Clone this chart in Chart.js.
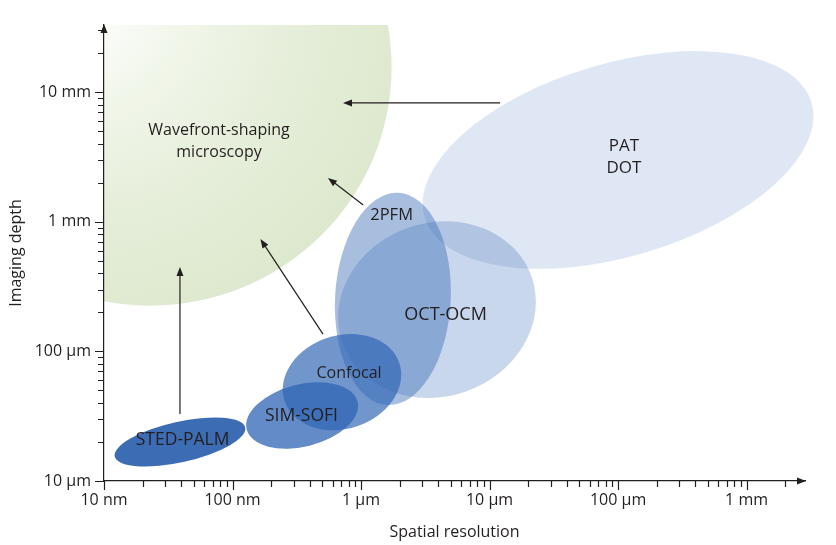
<!DOCTYPE html>
<html lang="en">
<head>
<meta charset="UTF-8">
<title>Imaging depth vs spatial resolution</title>
<script src="https://cdn.jsdelivr.net/npm/chart.js"></script>
<style>
  html, body { margin: 0; padding: 0; background: #fff; }
  canvas { display: block; }
</style>
</head>
<body>
<canvas id="depthChart" width="836" height="545"></canvas>
<script>
// axis ranges (nm for resolution, µm for depth)
const resMin = 10, resMax = 2850000;
const depthMin = 10, depthMax = 33000;

const resTicks = [10, 100, 1000, 10000, 100000, 1000000];
const resTickLabels = ['10 nm', '100 nm', '1 µm', '10 µm', '100 µm', '1 mm'];
const depthTicks = [10, 100, 1000, 10000];
const depthTickLabels = ['10 µm', '100 µm', '1 mm', '10 mm'];

// technique regions: centre (nm, µm), half-extent in decades, tilt in degrees
const techniques = ['Wavefront-shaping', 'PAT-DOT', 'OCT-OCM', '2PFM', 'Confocal', 'SIM-SOFI', 'STED-PALM'];
const centreRes = [22.8, 100000, 3900, 1770, 711, 348, 39];
const centreDepth = [15600, 3000, 210, 254, 58, 32, 20];
const spanRes = [1.88, 1.57, 0.78, 0.45, 0.47, 0.445, 0.52];
const spanDepth = [1.84, 0.745, 0.67, 0.82, 0.36, 0.24, 0.156];
const tilt = [0, -16.5, -19, 3, -18, -14, -12.6];

// region labels
const labelLines = [['Wavefront-shaping', 'microscopy'], ['PAT', 'DOT'], ['OCT-OCM'], ['2PFM'], ['Confocal'], ['SIM-SOFI'], ['STED-PALM']];
const labelRes = [78.5, 111000, 4550, 1730, 807, 344, 40.9];
const labelDepth = [4170, 3160, 191, 1130, 68, 31.5, 20.7];

// arrows towards wavefront shaping
const arrowFromRes = [12100, 1040, 506, 39];
const arrowFromDepth = [8260, 1350, 136, 32.9];
const arrowToRes = [724, 553, 165, 39];
const arrowToDepth = [8260, 2180, 736, 448];

const ink = '#231f20';
const regionFill = [null, 'rgba(60,110,185,0.17)', 'rgba(60,110,185,0.28)', 'rgba(60,110,185,0.45)',
                    'rgba(45,100,180,0.68)', 'rgba(45,100,180,0.75)', 'rgba(50,100,175,0.95)'];
const labelSize = [16, 17, 18, 16.5, 16, 17.5, 17.5];

Chart.defaults.font.family = "'Open Sans', sans-serif";
Chart.defaults.font.size = 16;
Chart.defaults.color = ink;

function arrowHead(ctx, x1, y1, x2, y2, len, half) {
    const a = Math.atan2(y2 - y1, x2 - x1);
    ctx.beginPath();
    ctx.moveTo(x2, y2);
    ctx.lineTo(x2 - len * Math.cos(a) + half * Math.sin(a), y2 - len * Math.sin(a) - half * Math.cos(a));
    ctx.lineTo(x2 - len * Math.cos(a) - half * Math.sin(a), y2 - len * Math.sin(a) + half * Math.cos(a));
    ctx.closePath();
    ctx.fill();
}

const regionsPlugin = {
    id: 'regions',
    beforeDraw(chart) {
        const { ctx, chartArea, scales: { x, y } } = chart;
        techniques.forEach((name, i) => {
            const cx = x.getPixelForValue(centreRes[i]);
            const cy = y.getPixelForValue(centreDepth[i]);
            const rx = x.getPixelForValue(centreRes[i] * Math.pow(10, spanRes[i])) - cx;
            const ry = cy - y.getPixelForValue(centreDepth[i] * Math.pow(10, spanDepth[i]));
            ctx.save();
            if (i === 0) {
                ctx.beginPath();
                ctx.rect(chartArea.left, chartArea.top, chartArea.width, chartArea.height);
                ctx.clip();
                // pale fade into the corner of the axes
                const g = ctx.createRadialGradient(chartArea.left - 20, chartArea.top - 20, 0,
                                                   chartArea.left - 20, chartArea.top - 20, 330);
                g.addColorStop(0, '#ffffff');
                g.addColorStop(0.3, '#f1f6ea');
                g.addColorStop(0.65, '#e5eed9');
                g.addColorStop(1, '#dde9ce');
                ctx.fillStyle = g;
            } else {
                ctx.fillStyle = regionFill[i];
            }
            ctx.beginPath();
            ctx.ellipse(cx, cy, rx, ry, tilt[i] * Math.PI / 180, 0, 2 * Math.PI);
            ctx.fill();
            ctx.restore();
        });
    },
    afterDraw(chart) {
        const { ctx, chartArea, scales: { x, y } } = chart;
        ctx.save();
        ctx.strokeStyle = ink;
        ctx.fillStyle = ink;
        ctx.lineWidth = 1.2;

        // log tick marks
        ctx.beginPath();
        for (let d = 10; d <= resMax; d *= 10) {
            for (let m = 1; m <= 9; m++) {
                const v = d * m;
                if (v < resMin || v > resMax) continue;
                const px = Math.round(x.getPixelForValue(v)) + 0.5;
                ctx.moveTo(px, chartArea.bottom);
                ctx.lineTo(px, chartArea.bottom + (m === 1 ? 9 : 6));
            }
        }
        for (let d = 10; d <= depthMax; d *= 10) {
            for (let m = 1; m <= 9; m++) {
                const v = d * m;
                if (v < depthMin || v > depthMax) continue;
                const py = Math.round(y.getPixelForValue(v)) + 0.5;
                ctx.moveTo(chartArea.left, py);
                ctx.lineTo(chartArea.left - (m === 1 ? 9 : 6), py);
            }
        }
        ctx.stroke();

        // axis arrow heads
        arrowHead(ctx, chartArea.left, chartArea.bottom, chartArea.right + 1, chartArea.bottom, 9, 3.5);
        arrowHead(ctx, chartArea.left, chartArea.bottom, chartArea.left, chartArea.top - 1, 9, 3.5);

        // arrows between regions
        ctx.lineWidth = 1.2;
        arrowFromRes.forEach((r, i) => {
            const x1 = x.getPixelForValue(r), y1 = y.getPixelForValue(arrowFromDepth[i]);
            const x2 = x.getPixelForValue(arrowToRes[i]), y2 = y.getPixelForValue(arrowToDepth[i]);
            const a = Math.atan2(y2 - y1, x2 - x1);
            ctx.beginPath();
            ctx.moveTo(x1, y1);
            ctx.lineTo(x2 - 6 * Math.cos(a), y2 - 6 * Math.sin(a));
            ctx.stroke();
            arrowHead(ctx, x1, y1, x2, y2, 9, 3.5);
        });

        // region labels
        ctx.textAlign = 'center';
        ctx.textBaseline = 'middle';
        labelLines.forEach((lines, i) => {
            ctx.font = labelSize[i] + "px 'Open Sans', sans-serif";
            const lx = x.getPixelForValue(labelRes[i]);
            const ly = y.getPixelForValue(labelDepth[i]);
            const step = 21.5;
            lines.forEach((t, k) => {
                ctx.fillText(t, lx, ly + (k - (lines.length - 1) / 2) * step);
            });
        });
        ctx.restore();
    }
};

new Chart(document.getElementById('depthChart'), {
    type: 'scatter',
    data: { datasets: [] },
    options: {
        responsive: false,
        animation: false,
        layout: { padding: { top: 25, right: 31, left: 0, bottom: 0 } },
        plugins: { legend: { display: false }, tooltip: { enabled: false } },
        scales: {
            x: {
                type: 'logarithmic',
                min: resMin,
                max: resMax,
                afterBuildTicks: s => { s.ticks = resTicks.map(v => ({ value: v })); },
                afterFit: s => { s.height = 64; },
                grid: { display: true, drawOnChartArea: false, drawTicks: false },
                border: { display: true, color: ink, width: 1.2 },
                ticks: { autoSkip: false, maxRotation: 0, padding: 10, callback: (v, i) => resTickLabels[i] },
                title: { display: true, text: 'Spatial resolution', padding: { top: 0, bottom: 3 } }
            },
            y: {
                type: 'logarithmic',
                min: depthMin,
                max: depthMax,
                afterBuildTicks: s => { s.ticks = depthTicks.map(v => ({ value: v })); },
                afterFit: s => { s.width = 104; },
                grid: { display: true, drawOnChartArea: false, drawTicks: false },
                border: { display: true, color: ink, width: 1.2 },
                ticks: { autoSkip: false, padding: 13, callback: (v, i) => depthTickLabels[i] },
                title: { display: true, text: 'Imaging depth', padding: { top: 7, bottom: 0 } }
            }
        }
    },
    plugins: [regionsPlugin]
});
</script>
</body>
</html>
